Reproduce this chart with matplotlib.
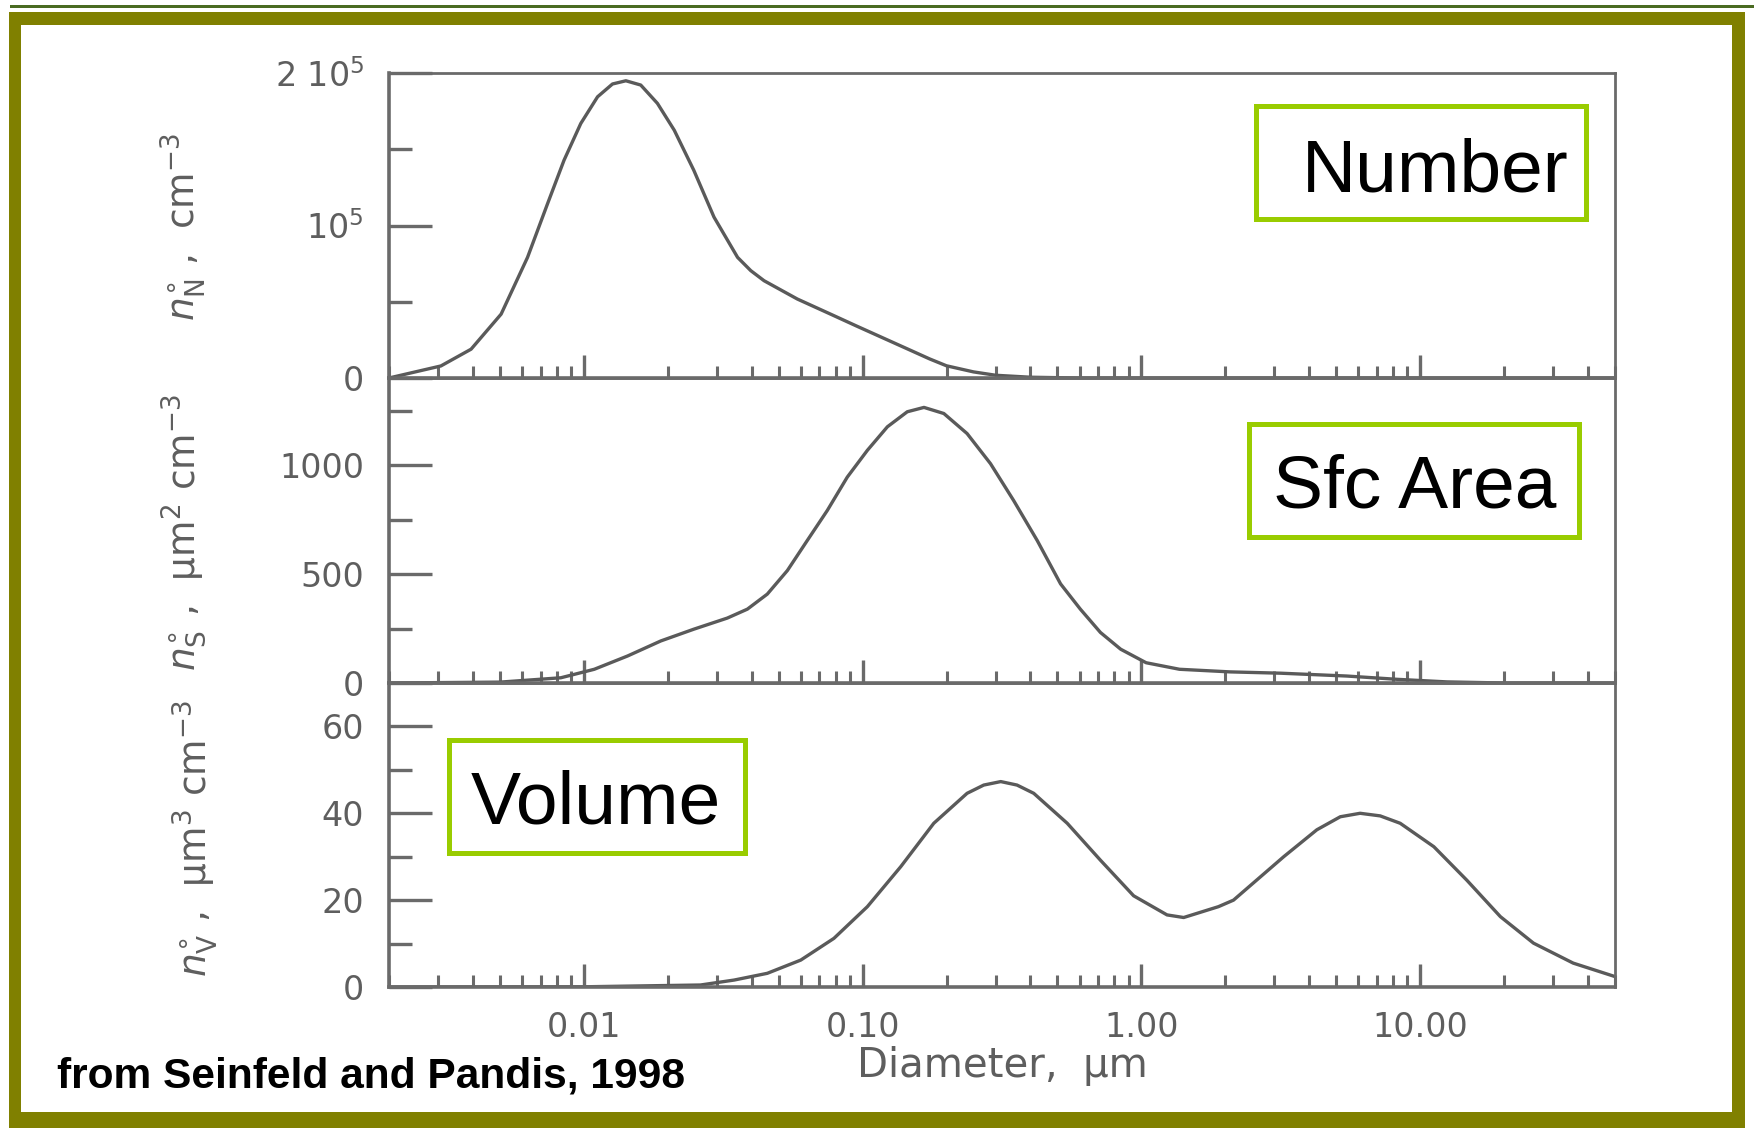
import matplotlib
matplotlib.use("Agg")
import matplotlib.pyplot as plt
from matplotlib.patches import Rectangle
from matplotlib.ticker import FixedLocator, LogLocator, NullFormatter

# ---------------- data ----------------
# Number distribution, n_N (cm^-3) vs diameter (um)
diam_number = [0.002, 0.00307, 0.00394, 0.00505, 0.00628, 0.00741, 0.00849, 0.00975,
               0.0112, 0.01267, 0.01415, 0.0160, 0.01836, 0.0211, 0.0248, 0.0293,
               0.0356, 0.0397, 0.0443, 0.0583, 0.0767, 0.0948, 0.1455, 0.174, 0.2,
               0.25, 0.3, 0.4, 0.6, 1.0, 50]
number_conc = [0, 7900, 18900, 41900, 79100, 114300, 142800, 166900,
               184400, 192800, 194900, 192100, 180100, 162500, 136200, 105500,
               79100, 70400, 63800, 51800, 41900, 34200, 18900, 12500, 8000,
               4000, 1800, 500, 0, 0, 0]

# Surface area distribution, n_S (um^2 cm^-3)
diam_surface = [0.002, 0.005, 0.00827, 0.0109, 0.01435, 0.01888, 0.0248, 0.0327,
                0.0386, 0.0455, 0.0537, 0.0633, 0.0747, 0.0881, 0.104, 0.1227,
                0.1446, 0.166, 0.1956, 0.237, 0.2875, 0.348, 0.423, 0.513, 0.604,
                0.713, 0.843, 1.04, 1.37, 2.08, 3.16, 5.45, 8.24, 12.5, 20, 50]
surface_conc = [0, 4, 24, 63, 124, 193, 247, 298,
                339, 408, 516, 654, 792, 945, 1068, 1176,
                1245, 1265, 1237, 1145, 1007, 838, 654, 455, 339,
                232, 155, 93, 63, 51, 45, 32, 17, 5, 0, 0]

# Volume distribution, n_V (um^3 cm^-3)
diam_volume = [0.002, 0.01, 0.0262, 0.0346, 0.0455, 0.060, 0.0789, 0.104, 0.137,
               0.180, 0.237, 0.272, 0.313, 0.358, 0.411, 0.542, 0.713, 0.938,
               1.236, 1.418, 1.89, 2.14, 3.24, 4.26, 5.17, 6.09, 7.19, 8.48,
               11.2, 14.7, 19.4, 25.5, 35.4, 50]
volume_conc = [0, 0.05, 0.46, 1.6, 3.15, 6.2, 11.2, 18.5, 27.7,
               37.7, 44.6, 46.5, 47.3, 46.5, 44.6, 37.7, 29.2, 21.0,
               16.6, 16.0, 18.5, 20.0, 30.0, 36.2, 39.2, 40.0, 39.4, 37.7,
               32.3, 24.6, 16.2, 10.1, 5.5, 2.4]

x_ticks = [0.01, 0.1, 1, 10]
x_tick_labels = ["0.01", "0.10", "1.00", "10.00"]

num_ticks = [0, 1e5, 2e5]
num_tick_labels = ["0", r"10$^{5}$", r"2 10$^{5}$"]
num_minor = [5e4, 1.5e5]

sfc_ticks = [0, 500, 1000]
sfc_tick_labels = ["0", "500", "1000"]
sfc_minor = [250, 750, 1250]

vol_ticks = [0, 20, 40, 60]
vol_tick_labels = ["0", "20", "40", "60"]
vol_minor = [10, 30, 50]

# ---------------- styling ----------------
W, H, DPI = 1754, 1128, 100
INK = "#5e5e5e"
AXC = "#6a6a6a"
OLIVE = "#808000"
LIME = "#99cc00"

plt.rcParams["mathtext.fontset"] = "dejavusans"
plt.rcParams["font.family"] = ["DejaVu Sans"]

fig = plt.figure(figsize=(W / DPI, H / DPI), dpi=DPI)
fig.patch.set_facecolor("white")


def frac_rect(x0, y0, x1, y1):
    """Pixel box (top-left origin) -> figure-fraction (x, y, w, h)."""
    return (x0 / W, 1 - y1 / H, (x1 - x0) / W, (y1 - y0) / H)


def add_box(x0, y0, x1, y1, **kw):
    fx, fy, fw, fh = frac_rect(x0, y0, x1, y1)
    fig.add_artist(Rectangle((fx, fy), fw, fh, transform=fig.transFigure, **kw))


# Page frame
add_box(10, 5, 1754, 8, facecolor="#4a6b22", edgecolor="none")
add_box(9, 12, 1745, 25, facecolor=OLIVE, edgecolor="none")
add_box(9, 12, 21, 1128, facecolor=OLIVE, edgecolor="none")
add_box(1732, 12, 1745, 1128, facecolor=OLIVE, edgecolor="none")
add_box(9, 1112, 1745, 1128, facecolor=OLIVE, edgecolor="none")

AX_L, AX_R = 389, 1615
panels = [
    (73, 378, diam_number, number_conc, (0, 2e5), num_ticks, num_tick_labels, num_minor),
    (378, 683, diam_surface, surface_conc, (0, 1400), sfc_ticks, sfc_tick_labels, sfc_minor),
    (683, 987, diam_volume, volume_conc, (0, 70), vol_ticks, vol_tick_labels, vol_minor),
]

axes = []
for i, (top, bot, xd, yd, ylim, yt, ytl, ymin) in enumerate(panels):
    ax = fig.add_axes(frac_rect(AX_L, top, AX_R, bot))
    ax.set_xscale("log")
    ax.set_xlim(0.002, 50)
    ax.set_ylim(*ylim)
    ax.plot(xd, yd, color="#5a5a5a", lw=2.4, solid_joinstyle="round",
            solid_capstyle="round")

    ax.set_xticks(x_ticks)
    ax.xaxis.set_minor_locator(LogLocator(base=10, subs=range(2, 10), numticks=30))
    ax.xaxis.set_minor_formatter(NullFormatter())
    if i == 2:
        ax.set_xticklabels(x_tick_labels)
    else:
        ax.set_xticklabels([])

    ax.yaxis.set_major_locator(FixedLocator(yt))
    ax.set_yticklabels(ytl)
    ax.yaxis.set_minor_locator(FixedLocator(ymin))

    ax.tick_params(axis="y", which="major", direction="in", length=31, width=2.4,
                   color=AXC, labelsize=24, labelcolor=INK, pad=18, right=False)
    ax.tick_params(axis="y", which="minor", direction="in", length=16.5, width=2.4,
                   color=AXC, right=False)
    ax.tick_params(axis="x", which="major", direction="in", length=16.5, width=2.4,
                   color=AXC, labelsize=24, labelcolor=INK, pad=17, top=False,
                   labelbottom=(i == 2))
    ax.tick_params(axis="x", which="minor", direction="in", length=8.6, width=2.2,
                   color=AXC, top=False)
    for side, sp in ax.spines.items():
        sp.set_color(AXC)
        sp.set_linewidth(2.6 if side in ("left", "bottom") else 2.0)
    ax.set_facecolor("none")
    axes.append(ax)

axes[2].set_xlabel("Diameter,  μm", fontsize=29, color=INK, labelpad=2)

# Rotated y-axis titles
ylabels = [
    (r"$n^{\circ}_{\mathrm{N}}$ ,  cm$^{-3}$", 183, 227),
    (r"$n^{\circ}_{\mathrm{S}}$ ,  μm$^{2}$ cm$^{-3}$", 184, 532),
    (r"$n^{\circ}_{\mathrm{V}}$ ,  μm$^{3}$ cm$^{-3}$", 195, 838),
]
for txt, px, py in ylabels:
    fig.text(px / W, 1 - py / H, txt, rotation=90, ha="center", va="center",
             fontsize=27, color=INK)

# Labelled boxes
boxes = [
    ("Number", (1253, 104, 1588, 221), 1302, 191),
    ("Sfc Area", (1246, 421, 1581, 539), 1273, 508),
    ("Volume", (447, 737, 747, 855), 471, 824),
]
lw_px = 5
for label, (x0, y0, x1, y1), tx, ty in boxes:
    h = lw_px / 2
    add_box(x0 + h, y0 + h, x1 - h, y1 - h, facecolor="white", edgecolor=LIME,
            linewidth=lw_px * 72 / DPI, zorder=5)
    fig.text(tx / W, 1 - ty / H, label, ha="left", va="baseline", fontsize=54,
             color="black", family=["Liberation Sans", "DejaVu Sans"], zorder=6)

# Source note
src = fig.text(57 / W, 1 - 1088 / H, "from Seinfeld and Pandis, 1998", ha="left",
               va="baseline", fontsize=30, fontweight="bold", color="black",
               family=["Liberation Sans Narrow", "Liberation Sans", "DejaVu Sans"])
renderer = fig.canvas.get_renderer()
width_now = src.get_window_extent(renderer).width
src.set_fontsize(30 * 629 / width_now)

fig.savefig("out.png", dpi=DPI, facecolor="white")
